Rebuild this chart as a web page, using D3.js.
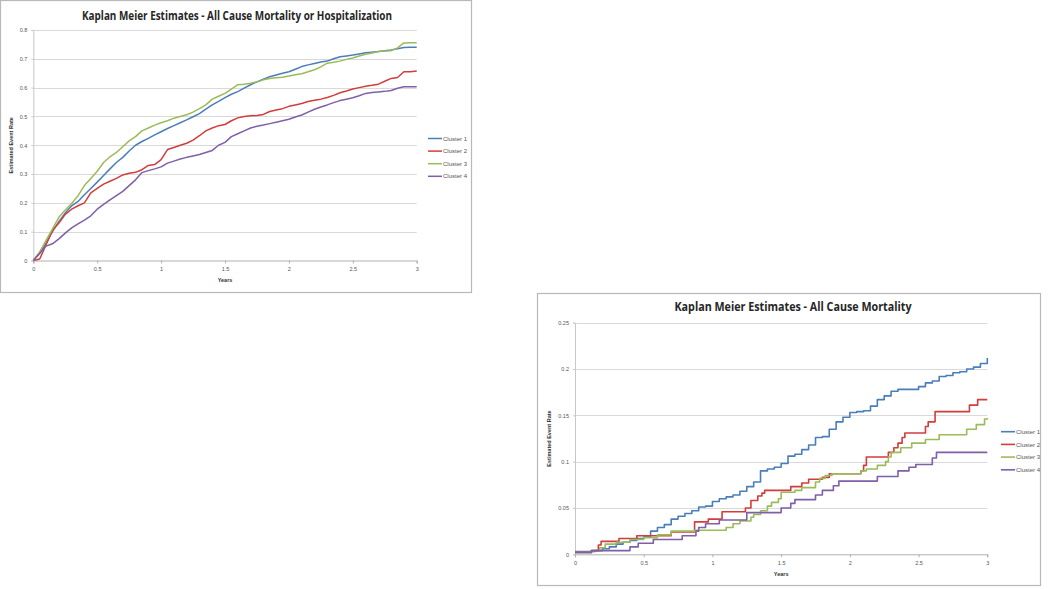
<!DOCTYPE html>
<html><head><meta charset="utf-8">
<script src="https://cdn.jsdelivr.net/npm/d3@7"></script>
<style>html,body{margin:0;padding:0;background:#fff;}svg{display:block;}</style>
</head><body>
<svg id="c" width="1050" height="589"></svg>
<script>
// ---------- DATA ----------
const seriesNames = ["Cluster 1", "Cluster 2", "Cluster 3", "Cluster 4"];
const colors = ["#4A7EBB", "#D23C3C", "#9BBB59", "#7E5FA8"];

// Chart A: All Cause Mortality or Hospitalization
const titleA = "Kaplan Meier Estimates  - All Cause Mortality or Hospitalization";
const yTicksA = [0, 0.1, 0.2, 0.3, 0.4, 0.5, 0.6, 0.7, 0.8];
const xTicks = [0, 0.5, 1, 1.5, 2, 2.5, 3];
const yearsA = [0,0.05,0.1,0.15,0.2,0.25,0.3,0.35,0.4,0.45,0.5,0.55,0.6,0.65,0.7,0.75,0.8,0.85,0.9,0.95,1,1.05,1.1,1.15,1.2,1.25,1.3,1.35,1.4,1.45,1.5,1.55,1.6,1.65,1.7,1.75,1.8,1.85,1.9,1.95,2,2.05,2.1,2.15,2.2,2.25,2.3,2.35,2.4,2.45,2.5,2.55,2.6,2.65,2.7,2.75,2.8,2.85,2.9,2.95,3];
const a_cluster1 = [0,0.025,0.06,0.1,0.135,0.165,0.19,0.205,0.228,0.25,0.272,0.295,0.318,0.34,0.358,0.38,0.4,0.413,0.424,0.436,0.447,0.458,0.468,0.478,0.488,0.499,0.51,0.525,0.54,0.552,0.565,0.577,0.586,0.598,0.61,0.62,0.629,0.638,0.644,0.65,0.655,0.664,0.673,0.679,0.684,0.689,0.692,0.7,0.707,0.71,0.713,0.717,0.721,0.723,0.725,0.728,0.731,0.735,0.739,0.74,0.74];
const a_cluster2 = [0,0.005,0.055,0.105,0.13,0.16,0.178,0.19,0.2,0.235,0.25,0.265,0.275,0.285,0.297,0.303,0.306,0.315,0.33,0.333,0.35,0.385,0.392,0.4,0.407,0.418,0.433,0.45,0.46,0.468,0.472,0.485,0.495,0.5,0.502,0.503,0.507,0.517,0.522,0.527,0.535,0.54,0.545,0.552,0.556,0.56,0.566,0.573,0.582,0.588,0.595,0.6,0.605,0.608,0.612,0.622,0.632,0.635,0.655,0.655,0.658];
const a_cluster3 = [0,0.03,0.07,0.11,0.15,0.175,0.198,0.225,0.26,0.285,0.31,0.34,0.36,0.375,0.395,0.415,0.43,0.45,0.46,0.47,0.478,0.485,0.494,0.5,0.506,0.515,0.527,0.54,0.56,0.57,0.58,0.595,0.61,0.612,0.615,0.62,0.627,0.632,0.634,0.636,0.64,0.645,0.648,0.655,0.662,0.672,0.685,0.688,0.692,0.698,0.703,0.71,0.716,0.72,0.725,0.727,0.728,0.738,0.755,0.756,0.756];
const a_cluster4 = [0,0.025,0.05,0.058,0.075,0.095,0.113,0.127,0.14,0.155,0.178,0.195,0.21,0.225,0.24,0.26,0.28,0.305,0.312,0.318,0.325,0.338,0.345,0.352,0.358,0.363,0.368,0.375,0.382,0.4,0.41,0.43,0.44,0.45,0.46,0.466,0.47,0.475,0.48,0.485,0.49,0.498,0.505,0.515,0.525,0.533,0.54,0.548,0.555,0.56,0.565,0.572,0.58,0.583,0.585,0.587,0.59,0.598,0.603,0.603,0.603];

// Chart B: All Cause Mortality
const titleB = "Kaplan Meier Estimates - All Cause Mortality";
const yTicksB = [0, 0.05, 0.1, 0.15, 0.2, 0.25];
const b_years1 = [0,0.05,0.1,0.15,0.2,0.25,0.3,0.35,0.4,0.45,0.5,0.55,0.6,0.65,0.7,0.75,0.8,0.85,0.9,0.95,1,1.05,1.1,1.15,1.2,1.25,1.3,1.35,1.4,1.45,1.5,1.55,1.6,1.65,1.7,1.75,1.8,1.85,1.9,1.95,2,2.05,2.1,2.15,2.2,2.25,2.3,2.35,2.4,2.45,2.5,2.55,2.6,2.65,2.7,2.75,2.8,2.85,2.9,2.95,3];
const b_cluster1 = [0.003,0.003,0.003,0.004,0.006,0.008,0.011,0.013,0.015,0.017,0.019,0.025,0.029,0.032,0.038,0.041,0.044,0.047,0.051,0.052,0.057,0.06,0.062,0.064,0.068,0.073,0.078,0.09,0.092,0.094,0.098,0.106,0.108,0.113,0.118,0.126,0.127,0.135,0.143,0.148,0.153,0.154,0.155,0.16,0.167,0.171,0.176,0.178,0.178,0.178,0.181,0.185,0.187,0.192,0.193,0.196,0.197,0.2,0.202,0.206,0.212];
const b_years2 = [0,0.12,0.17,0.19,0.32,0.45,0.7,0.87,0.97,1.07,1.24,1.28,1.33,1.36,1.38,1.57,1.65,1.7,1.8,1.85,2.08,2.1,2.12,2.28,2.32,2.35,2.38,2.4,2.55,2.57,2.62,2.87,2.93,3];
const b_cluster2 = [0.002,0.004,0.01,0.014,0.017,0.02,0.024,0.035,0.038,0.046,0.05,0.058,0.063,0.066,0.069,0.073,0.077,0.081,0.083,0.087,0.09,0.096,0.105,0.11,0.115,0.12,0.126,0.131,0.138,0.143,0.154,0.161,0.167,0.167];
const b_years3 = [0,0.12,0.18,0.22,0.3,0.4,0.5,0.6,0.7,0.87,1.1,1.15,1.2,1.28,1.3,1.35,1.4,1.43,1.48,1.5,1.6,1.65,1.75,1.78,1.82,1.87,2.08,2.12,2.2,2.26,2.28,2.3,2.37,2.45,2.55,2.65,2.85,2.92,2.98,3];
const b_cluster3 = [0.002,0.004,0.007,0.011,0.013,0.016,0.018,0.021,0.025,0.026,0.029,0.033,0.036,0.04,0.043,0.047,0.052,0.056,0.06,0.067,0.069,0.072,0.078,0.082,0.085,0.087,0.09,0.092,0.096,0.1,0.105,0.11,0.115,0.12,0.124,0.129,0.135,0.14,0.146,0.147];
const b_years4 = [0,0.12,0.4,0.46,0.57,0.78,0.88,0.9,0.95,1.05,1.25,1.5,1.57,1.6,1.75,1.8,1.88,1.92,2.2,2.35,2.43,2.48,2.6,2.63,3];
const b_cluster4 = [0.002,0.004,0.008,0.012,0.016,0.02,0.025,0.029,0.033,0.037,0.045,0.05,0.055,0.059,0.064,0.069,0.074,0.079,0.084,0.09,0.094,0.097,0.104,0.11,0.11];

// ---------- DRAW ----------
const svg = d3.select("#c");
const FONT = "'Liberation Sans', Arial, sans-serif";

function drawChart(cfg) {
  const g = svg.append("g");
  g.append("rect").attr("x", cfg.box[0] + 0.5).attr("y", cfg.box[1] + 0.5)
    .attr("width", cfg.box[2] - cfg.box[0]).attr("height", cfg.box[3] - cfg.box[1])
    .attr("fill", "#fff").attr("stroke", "#b8b8b8").attr("stroke-width", 1.2);

  const x = d3.scaleLinear().domain([0, 3]).range([cfg.plot[0], cfg.plot[2]]);
  const y = d3.scaleLinear().domain([0, cfg.yMax]).range([cfg.plot[3], cfg.plot[1]]);

  g.append("g").selectAll("line").data(cfg.yTicks.filter(d => d > 0)).join("line")
    .attr("x1", cfg.plot[0]).attr("x2", cfg.plot[2])
    .attr("y1", d => Math.round(y(d)) + 0.5).attr("y2", d => Math.round(y(d)) + 0.5)
    .attr("stroke", "#d9d9d9").attr("stroke-width", 1);

  const ya = g.append("g").attr("transform", `translate(${cfg.plot[0]},0)`)
    .call(d3.axisLeft(y).tickValues(cfg.yTicks).tickSize(2).tickPadding(4).tickFormat(d => String(+d.toFixed(2))));
  ya.select(".domain").attr("stroke", "#c8c8c8");
  ya.selectAll(".tick line").attr("stroke", "#c8c8c8");
  ya.selectAll("text").attr("font-family", FONT).attr("font-size", cfg.tickFs).attr("fill", "#555");

  const xa = g.append("g").attr("transform", `translate(0,${cfg.plot[3]})`)
    .call(d3.axisBottom(x).tickValues(xTicks).tickSize(3).tickPadding(4).tickFormat(d => String(d)));
  xa.select(".domain").attr("stroke", "#b0b0b0");
  xa.selectAll(".tick line").attr("stroke", "#b0b0b0");
  xa.selectAll("text").attr("font-family", FONT).attr("font-size", cfg.tickFs).attr("fill", "#555");

  const line = d3.line().curve(cfg.curve).x(d => x(d[0])).y(d => y(d[1]));
  cfg.series.forEach((s, i) => {
    const pts = s.years.map((t, j) => [t, s.values[j]]);
    g.append("path").datum(pts).attr("d", line).attr("fill", "none")
      .attr("stroke", colors[i]).attr("stroke-width", cfg.lw).attr("stroke-linejoin", "round");
  });

  g.append("text").attr("x", cfg.title.x).attr("y", cfg.title.y)
    .attr("text-anchor", "middle").attr("font-family", "'Open Sans', sans-serif")
    .attr("font-weight", "bold").attr("font-size", cfg.title.fs).attr("fill", "#262626")
    .attr("textLength", cfg.title.len).attr("lengthAdjust", "spacingAndGlyphs")
    .text(cfg.title.text);

  g.append("text").attr("x", (cfg.plot[0] + cfg.plot[2]) / 2).attr("y", cfg.xTitleY)
    .attr("text-anchor", "middle").attr("font-family", FONT).attr("font-weight", "bold")
    .attr("font-size", cfg.tickFs).attr("fill", "#333").text("Years");
  g.append("text").attr("transform", `translate(${cfg.yTitleX},${(cfg.plot[1] + cfg.plot[3]) / 2}) rotate(-90)`)
    .attr("text-anchor", "middle").attr("font-family", FONT).attr("font-weight", "bold")
    .attr("font-size", cfg.tickFs).attr("fill", "#333").text("Estimated Event Rate");

  const lg = g.append("g");
  seriesNames.forEach((n, i) => {
    const ly = cfg.legend.y + i * cfg.legend.dy;
    lg.append("line").attr("x1", cfg.legend.x).attr("x2", cfg.legend.x + cfg.legend.w)
      .attr("y1", ly).attr("y2", ly).attr("stroke", colors[i]).attr("stroke-width", cfg.lw);
    lg.append("text").attr("x", cfg.legend.x + cfg.legend.w + 1).attr("y", ly)
      .attr("dy", "0.35em").attr("font-family", FONT).attr("font-size", cfg.legend.fs)
      .attr("fill", "#555").text(n);
  });
}

drawChart({
  box: [0, 0, 471, 292],
  plot: [33.3, 30, 416.7, 260.5],
  yMax: 0.8, yTicks: yTicksA, tickFs: 5.5, lw: 1.5, curve: d3.curveLinear,
  title: { text: titleA, x: 237, y: 19.5, fs: 12.5, len: 310 },
  xTitleY: 282, yTitleX: 13,
  legend: { x: 428, y: 138.5, dy: 12.6, w: 14, fs: 6 },
  series: [
    { years: yearsA, values: a_cluster1 },
    { years: yearsA, values: a_cluster2 },
    { years: yearsA, values: a_cluster3 },
    { years: yearsA, values: a_cluster4 }
  ]
});

drawChart({
  box: [537, 293, 1040, 585],
  plot: [575, 322.7, 987.3, 554.3],
  yMax: 0.25, yTicks: yTicksB, tickFs: 5.5, lw: 1.6, curve: d3.curveStepAfter,
  title: { text: titleB, x: 793, y: 311, fs: 12.5, len: 237 },
  xTitleY: 576, yTitleX: 551,
  legend: { x: 1001, y: 431.7, dy: 12.7, w: 14, fs: 6 },
  series: [
    { years: b_years1, values: b_cluster1 },
    { years: b_years2, values: b_cluster2 },
    { years: b_years3, values: b_cluster3 },
    { years: b_years4, values: b_cluster4 }
  ]
});
</script>
</body></html>
